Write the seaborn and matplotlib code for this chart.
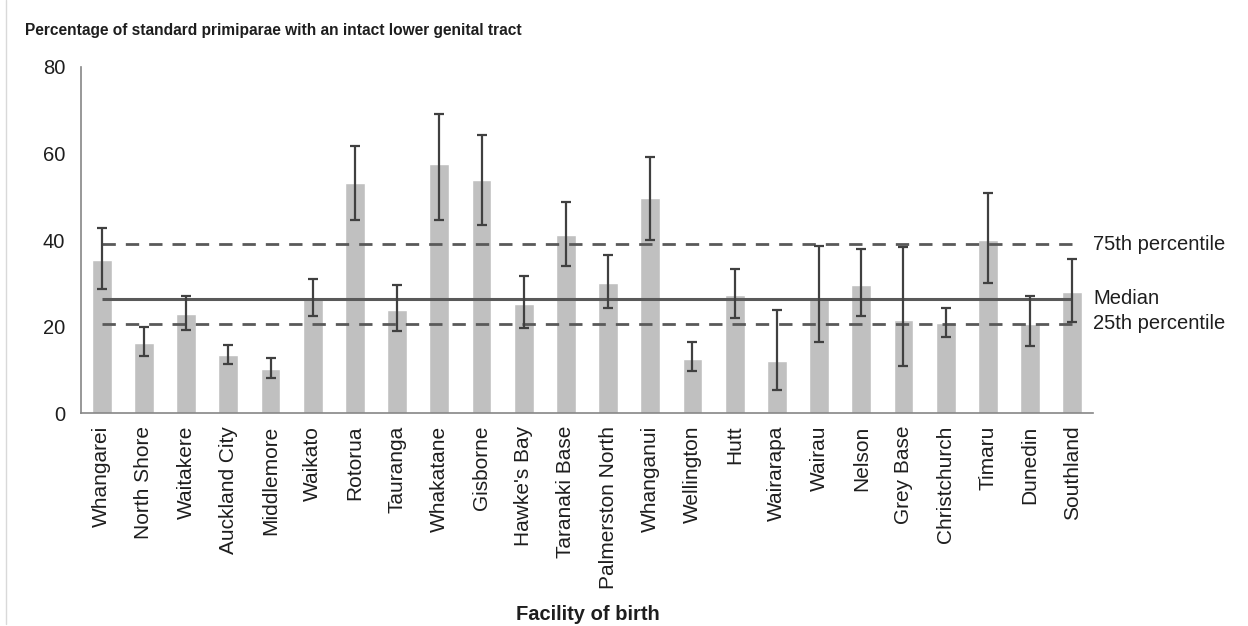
import numpy as np
import pandas as pd
import seaborn as sns
import matplotlib.pyplot as plt
from matplotlib.lines import Line2D

# facilities and values
facilities = ['Whangarei', 'North Shore', 'Waitakere', 'Auckland City', 'Middlemore',
              'Waikato', 'Rotorua', 'Tauranga', 'Whakatane', 'Gisborne', "Hawke's Bay",
              'Taranaki Base', 'Palmerston North', 'Whanganui', 'Wellington', 'Hutt',
              'Wairarapa', 'Wairau', 'Nelson', 'Grey Base', 'Christchurch', 'Timaru',
              'Dunedin', 'Southland']
pct = [35.5, 16.2, 22.9, 13.4, 10.3, 26.4, 53.2, 23.9, 57.5, 53.9, 25.2, 41.1,
       30.1, 49.8, 12.6, 27.2, 12.1, 26.6, 29.7, 21.6, 20.8, 40.0, 20.7, 28.0]
ci_low = [28.7, 13.1, 19.3, 11.3, 8.2, 22.4, 44.7, 19.0, 44.7, 43.4, 19.6, 33.9,
          24.4, 40.1, 9.8, 21.9, 5.4, 16.4, 22.4, 10.8, 17.6, 30.1, 15.6, 21.0]
ci_high = [42.9, 19.9, 27.0, 15.8, 12.7, 31.1, 61.7, 29.6, 69.1, 64.2, 31.8, 48.8,
           36.5, 59.3, 16.5, 33.4, 23.9, 38.7, 38.0, 38.5, 24.4, 50.9, 27.0, 35.6]

p25 = 20.65
median = 26.4
p75 = 39.0

df = pd.DataFrame({'facility': facilities, 'pct': pct})

sns.set_style('white')
plt.rcParams['font.family'] = ['Liberation Sans', 'DejaVu Sans']

fig = plt.figure(figsize=(12.48, 6.26), dpi=100)
ax = fig.add_axes([0.0646, 0.340, 0.8115, 0.553])

sns.barplot(data=df, x='facility', y='pct', color='#c0c0c0', saturation=1,
            width=0.47, errorbar=None, ax=ax)

x = np.arange(len(facilities))
yerr = [np.array(pct) - np.array(ci_low), np.array(ci_high) - np.array(pct)]
ax.errorbar(x, pct, yerr=yerr, fmt='none', ecolor='#404040', elinewidth=1.6,
            capsize=3.5, capthick=1.6, zorder=3)

# reference lines
ax.hlines(p75, 0, len(facilities) - 1, colors='#595959', linewidth=2.0,
          linestyles=(0, (4.8, 3.6)), zorder=2)
ax.hlines(median, 0, len(facilities) - 1, colors='#595959', linewidth=2.2, zorder=2)
ax.hlines(p25, 0, len(facilities) - 1, colors='#595959', linewidth=2.0,
          linestyles=(0, (4.8, 3.6)), zorder=2)

tr = ax.get_yaxis_transform()
for val, lab in [(p75, '75th percentile'), (median, 'Median'), (p25, '25th percentile')]:
    ax.annotate(lab, xy=(1.0, val), xycoords=tr, xytext=(0, 0), textcoords='offset points',
                fontsize=14.5, color='#1e1e1e', va='center', ha='left', annotation_clip=False)

ax.set_xlim(-0.5, len(facilities) - 0.5)
ax.set_ylim(0, 80)
ax.set_yticks([0, 20, 40, 60, 80])

# excel style ticks between categories
ax.set_xticks(x)
ax.set_xticklabels(facilities, rotation=90, fontsize=15, color='#1e1e1e')
ax.set_xticks(np.arange(-0.5, len(facilities)), minor=True)
ax.tick_params(axis='x', which='major', length=0, pad=9)
ax.tick_params(axis='x', which='minor', length=5, width=1.2, color='#868686', direction='out')
ax.tick_params(axis='y', length=5, width=1.2, color='#868686', direction='out',
               labelsize=14.5, labelcolor='#1e1e1e', pad=6)

for s in ['top', 'right']:
    ax.spines[s].set_visible(False)
for s in ['left', 'bottom']:
    ax.spines[s].set_color('#868686')
    ax.spines[s].set_linewidth(1.2)

ax.set_xlabel('')
ax.set_ylabel('')
fig.text(0.471, 0.019, 'Facility of birth', fontsize=14.5, fontweight='bold',
         color='#1e1e1e', ha='center', va='center')
fig.text(0.020, 0.952, 'Percentage of standard primiparae with an intact lower genital tract',
         fontsize=11.2, fontweight='bold', color='#1e1e1e', ha='left', va='center')

# thin frame line at the left edge
fig.add_artist(Line2D([0.0045, 0.0045], [0.003, 1.0], color='#d9d9d9', linewidth=1))

fig.savefig('out.png', dpi=100)
